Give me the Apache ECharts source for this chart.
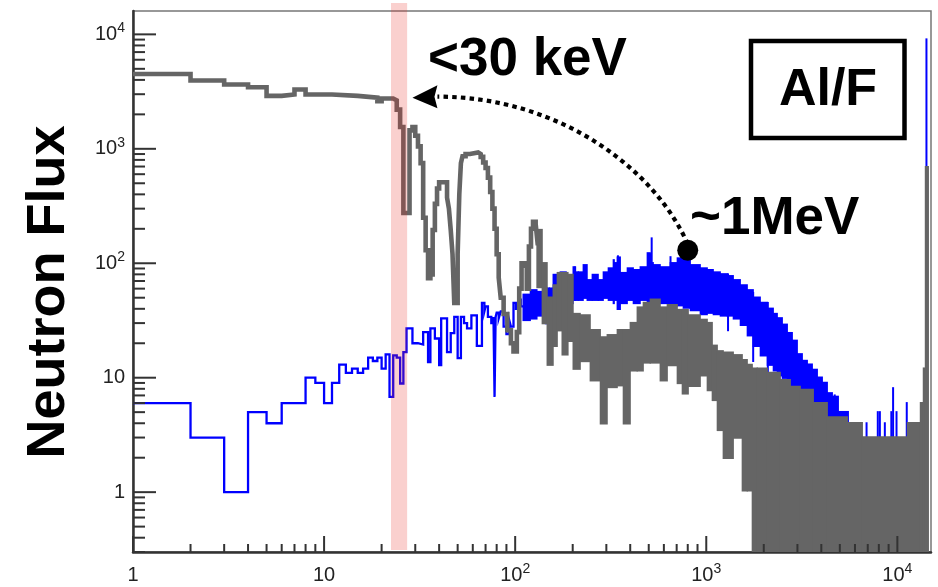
<!DOCTYPE html>
<html>
<head>
<meta charset="utf-8">
<script src="https://cdn.jsdelivr.net/npm/echarts@6/dist/echarts.min.js"></script>
<style>
  html, body { margin: 0; padding: 0; background: #ffffff; }
  #chart { width: 938px; height: 587px; }
</style>
</head>
<body>
<div id="chart"></div>
<script>
// ---- axis ranges (energy in keV, flux per bin) ----
const xRange = [1, 15000];
const yRange = [0.3, 16000];
const decadeLabels = ['1', '10', '10^2', '10^3', '10^4'];

// ---- grey spectrum: resolved low-energy bins (edges in keV, contents) ----
const grayEdges = [1, 2, 3, 4, 5, 6, 7, 8, 11, 15, 19, 20, 23, 24, 25, 26, 28, 29, 30, 31,
  32, 33, 34, 35, 36, 37, 38, 39, 40, 44, 45, 46, 47, 48, 50, 51, 52, 53, 55, 58,
  64, 66, 68, 70, 72, 74, 76, 78, 80, 82, 84, 87, 91, 95, 98, 102, 105, 108, 112, 115,
  118, 121, 124, 128, 131, 134];
const grayValues = [4500, 3950, 3650, 3450, 2900, 2980, 3300, 2980, 2900, 2800,
  2600, 2750, 2650, 2200, 1550, 275, 1450, 1550, 1300, 1050,
  750, 250, 130, 74, 80, 195, 330, 450, 510, 375,
  300, 195, 120, 45, 120, 400, 750, 860, 900, 930,
  900, 850, 760, 680, 560, 420, 300, 200, 120, 75,
  50, 36, 26, 20, 17, 25, 60, 100, 95, 60,
  140, 200, 230, 220, 150];

// ---- grey spectrum: dense high-energy bins as blocks (edges, lowest and highest content) ----
const grayBandEdges = [130, 138.5, 147, 158, 166, 176, 189, 201, 219, 247, 279, 303, 342, 368, 400,
  435, 468, 509, 574, 625, 705, 749, 805, 930, 1012, 1075, 1142, 1227, 1385, 1543,
  1639, 1741, 1849, 2086, 2440, 2754, 3105, 3633, 4300, 5473, 6558, 11280, 13200, 13680, 14020, 14530];
const grayBandLow = [62, 30, 13, 19, 26, 16, 21, 12, 14, 9.5, 4, 8.3, 8.6, 4, 11.6,
  11.6, 13.6, 13.6, 9.5, 12.9, 9, 7.3, 8.5, 10.5, 7.8, 6.4, 3.5, 2, 3, 1.04,
  1.04, 0, 0, 0, 0, 0, 0, 0, 0, 0, 0, 0, 0, 0, 0];
const grayBandHigh = [195, 100, 50, 64, 82, 82, 79, 36, 35, 26, 22.5, 23.5, 26, 26, 30,
  41, 45, 48, 41, 43, 39, 39, 35, 32, 30, 19, 17, 16.5, 15.7, 14.2,
  12.9, 12, 12, 11, 9.5, 8.3, 7.8, 6, 4.5, 4, 3, 4, 6, 12, 690];

// ---- blue spectrum: resolved low-energy bins ----
const blueEdges = [1, 2, 3, 4, 5, 6, 8, 9, 10, 11, 12, 13, 14, 15, 16, 17, 18, 19, 20, 21,
  22, 23, 24, 25, 26, 27, 29, 31, 33, 35, 36, 38, 40, 41, 44, 46, 48, 50, 52, 54,
  56, 59, 63, 67, 69, 70, 72, 75, 77, 78, 79, 80, 82, 84, 87, 90, 93, 95, 98, 101,
  104, 107, 110];
const blueValues = [6, 3, 1, 5, 4, 6, 10, 9, 6, 9, 13, 11, 12, 11, 12, 15, 14, 15, 12, 16,
  6.8, 15.7, 15, 8.9, 16.7, 27, 20, 19.5, 25, 13.7, 27, 22, 12.9, 33, 16.7, 24.5, 34, 14.8, 34, 30,
  27, 35, 19, 45, 38, 42, 34, 30, 34, 6.8, 34, 37, 33, 38, 28, 24, 32, 28, 45, 40,
  48, 42];

// ---- blue spectrum: dense high-energy bins as blocks ----
const blueBandEdges = [110, 120, 130, 144, 147, 151, 158, 172, 185, 201, 206, 214, 227, 238, 253,
  272, 289, 307, 326, 330, 342, 355, 386, 415, 451, 491, 509, 528, 574, 648,
  705, 758, 825, 930, 1012, 1088, 1184, 1288, 1385, 1507, 1639, 1762, 1917, 2086, 2243,
  2353, 2500, 2656, 2820, 2995, 3181, 3380, 3589, 3813, 4049, 4300, 4568, 4911, 5540];
const blueBandLow = [32, 33, 35, 30, 36, 36, 43, 43, 45, 48, 48, 48, 50, 48, 48,
  48, 50, 48, 45, 48, 40, 45, 48, 45, 48, 44, 46, 48, 45, 43,
  43, 41, 39, 36, 37, 36, 35, 35, 33, 29, 23.5, 19, 15.7, 13, 11.6,
  10.5, 10, 8.6, 7.8, 7, 6.4, 5.8, 5.2, 5, 4.6, 4.3, 4.1, 4];
const blueBandHigh = [53, 58, 56, 60, 60, 60, 79, 83, 74, 92, 83, 83, 96, 71, 79,
  71, 83, 90, 106, 100, 112, 82, 90, 87, 92, 122, 100, 96, 92, 100,
  110, 107, 96, 90, 87, 83, 80, 77, 71, 64, 58, 50, 45, 40, 36,
  33, 29, 24.5, 21, 16, 14, 13, 11.7, 10, 9, 7.3, 6.8, 5];

// ---- blue spectrum: isolated single-bin excursions (energy, low, high) ----
const blueSpikeX = [150, 206, 345, 512, 518, 650, 1300, 1760, 2100, 4700, 6900, 7900, 8100, 8600,
  9300, 9500, 9900, 11200, 14200];
const blueSpikeLow = [21, 48, 40, 30, 44, 45, 26, 14, 10, 4.1, 2.0, 2.8, 2.8, 2.8,
  2.8, 2.8, 2.8, 2.8, 700];
const blueSpikeHigh = [58, 92, 115, 120, 165, 113, 80, 55, 45, 7, 4, 5, 5, 4,
  5, 8.1, 5, 6, 9040];

// ---- highlighted energy window and the ~1 MeV marker ----
const windowRange = [22.4, 27.2];
const peakMarker = [800, 130];
const arrowTip = [29, 2800];

// ---- helpers ----
const GREY = '#656565';
const BLUE = '#0000ff';
const INK = '#222222';
const FONT = 'Liberation Sans, Arial, Helvetica, sans-serif';

function stepPoints(edges, values) {
  const pts = [];
  values.forEach((v, i) => { pts.push([edges[i], v], [edges[i + 1], v]); });
  return pts;
}
function blockData(edges, low, high) {
  return low.map((l, i) => [edges[i], edges[i + 1], l, high[i]]);
}
function spikeData(xs, low, high) {
  return xs.map((x, i) => [x, x, low[i], high[i]]);
}
function decadeTicks(firstExp, lastExp, mantissas, upTo, from) {
  const out = [];
  for (let e = firstExp; e <= lastExp; e++) {
    mantissas.forEach(m => {
      const v = +(m * Math.pow(10, e)).toPrecision(6);
      if (v <= upTo && v >= from) out.push(v);
    });
  }
  return out;
}
const minorMantissas = [2, 3, 4, 5, 6, 7, 8, 9];
const xMajor = [1, 10, 100, 1000, 10000];
const yMajor = [1, 10, 100, 1000, 10000];
const xMinor = decadeTicks(0, 4, minorMantissas, xRange[1], xRange[0]);
const yMinor = decadeTicks(-1, 3, minorMantissas, yRange[1], yRange[0]);

function clipToGrid(rect, cs) {
  return echarts.graphic.clipRectByRect(rect, { x: cs.x, y: cs.y, width: cs.width, height: cs.height });
}

function blockRenderer(color) {
  return function (params, api) {
    const cs = params.coordSys;
    const x0 = api.value(0), x1 = api.value(1), lo = api.value(2), hi = api.value(3);
    const a = api.coord([x0, hi]);
    const b = api.coord([x1, hi]);
    const yb = lo > 0 ? api.coord([x0, lo])[1] : cs.y + cs.height + 2;
    const rect = clipToGrid({ x: a[0] - 0.6, y: a[1] - 1.2, width: b[0] - a[0] + 1.2, height: yb - a[1] + 2.4 }, cs);
    if (!rect) return null;
    return { type: 'rect', shape: rect, style: { fill: color } };
  };
}
function spikeRenderer(color, width) {
  return function (params, api) {
    const cs = params.coordSys;
    const x = api.value(0), lo = api.value(2), hi = api.value(3);
    const a = api.coord([x, hi]);
    const yb = lo > 0 ? api.coord([x, lo])[1] : cs.y + cs.height;
    const rect = clipToGrid({ x: a[0] - width / 2, y: a[1] - 1, width: width, height: yb - a[1] + 2 }, cs);
    if (!rect) return null;
    return { type: 'rect', shape: rect, style: { fill: color } };
  };
}

function labelFromDecade(value) {
  const e = Math.round(Math.log10(value));
  const txt = decadeLabels[e];
  if (txt === undefined) return '';
  const parts = txt.split('^');
  return parts.length === 2 ? '{b|' + parts[0] + '}{s|' + parts[1] + '}' : '{b|' + parts[0] + '}';
}
const labelRich = {
  b: { fontFamily: FONT, fontSize: 20, lineHeight: 26, color: INK },
  s: { fontFamily: FONT, fontSize: 14, lineHeight: 14, color: INK, verticalAlign: 'top' }
};

const chart = echarts.init(document.getElementById('chart'));

const option = {
  animation: false,
  backgroundColor: '#ffffff',
  grid: { left: 133, right: 7, top: 11, bottom: 35, show: true, borderColor: '#777777', borderWidth: 1.5, backgroundColor: 'transparent' },
  xAxis: {
    type: 'log', logBase: 10, min: xRange[0], max: xRange[1],
    axisLine: { show: true, onZero: false, lineStyle: { color: '#333333', width: 2.5 } },
    axisTick: { show: false }, splitLine: { show: false }, minorTick: { show: false },
    axisLabel: { margin: 10, showMinLabel: true, showMaxLabel: false, formatter: labelFromDecade, rich: labelRich }
  },
  yAxis: {
    type: 'log', logBase: 10, min: yRange[0], max: yRange[1],
    axisLine: { show: true, onZero: false, lineStyle: { color: '#333333', width: 2.5 } },
    axisTick: { show: false }, splitLine: { show: false }, minorTick: { show: false },
    axisLabel: { margin: 8, showMinLabel: false, showMaxLabel: false, formatter: labelFromDecade, rich: labelRich }
  },
  series: [
    // blue spectrum
    {
      type: 'line', data: stepPoints(blueEdges, blueValues), showSymbol: false, z: 2,
      lineStyle: { color: BLUE, width: 2.3, join: 'miter' }, itemStyle: { color: BLUE }
    },
    {
      type: 'custom', z: 2, data: blockData(blueBandEdges, blueBandLow, blueBandHigh),
      encode: { x: [0, 1], y: [2, 3] }, renderItem: blockRenderer(BLUE)
    },
    {
      type: 'custom', z: 2, data: spikeData(blueSpikeX, blueSpikeLow, blueSpikeHigh),
      encode: { x: [0, 1], y: [2, 3] }, renderItem: spikeRenderer(BLUE, 2)
    },
    // grey spectrum
    {
      type: 'line', data: stepPoints(grayEdges, grayValues), showSymbol: false, z: 3,
      lineStyle: { color: GREY, width: 4.6, join: 'miter' }, itemStyle: { color: GREY }
    },
    {
      type: 'custom', z: 3, data: blockData(grayBandEdges, grayBandLow, grayBandHigh),
      encode: { x: [0, 1], y: [2, 3] }, renderItem: blockRenderer(GREY)
    },
    // highlighted window below 30 keV
    {
      type: 'custom', z: 4, data: [[windowRange[0], windowRange[1]]],
      encode: { x: [0, 1] },
      renderItem: function (params, api) {
        const a = api.coord([api.value(0), yRange[1]]);
        const b = api.coord([api.value(1), yRange[0]]);
        return { type: 'rect', shape: { x: a[0], y: a[1] - 8, width: b[0] - a[0], height: b[1] - a[1] + 6 },
          style: { fill: 'rgba(232, 40, 30, 0.22)' } };
      }
    },
    // dotted arrow from the ~1 MeV peak back to the window
    {
      type: 'custom', z: 5, data: [[peakMarker[0], peakMarker[1], arrowTip[0], arrowTip[1]]],
      encode: { x: [0, 2], y: [1, 3] },
      renderItem: function (params, api) {
        const p0 = api.coord([api.value(0), api.value(1)]);
        const tip = api.coord([api.value(2), api.value(3)]);
        const base = [tip[0] + 25, tip[1] - 1];
        return {
          type: 'group',
          children: [
            { type: 'bezierCurve',
              shape: { x1: p0[0], y1: p0[1] - 6, cpx1: p0[0] - 32, cpy1: p0[1] - 80,
                       cpx2: base[0] + 123, cpy2: base[1], x2: base[0], y2: base[1] },
              style: { stroke: '#000000', lineWidth: 4.2, lineDash: [4.5, 4.2], fill: null } },
            { type: 'polygon',
              shape: { points: [[tip[0], tip[1]], [base[0], base[1] - 11.5], [base[0] - 3, base[1]], [base[0], base[1] + 11.5]] },
              style: { fill: '#000000' } }
          ]
        };
      }
    },
    {
      type: 'scatter', z: 6, data: [peakMarker], symbol: 'circle', symbolSize: 21,
      itemStyle: { color: '#000000', opacity: 1 }
    },
    // axis ticks drawn inside the frame
    {
      type: 'custom', z: 7, silent: true,
      data: xMajor.map(v => [v, yRange[0], 16]).concat(xMinor.map(v => [v, yRange[0], 8])),
      encode: { x: 0, y: 1 },
      renderItem: function (params, api) {
        const p = api.coord([api.value(0), api.value(1)]);
        return { type: 'line', shape: { x1: p[0], y1: p[1], x2: p[0], y2: p[1] - api.value(2) },
          style: { stroke: '#333333', lineWidth: 2 } };
      }
    },
    {
      type: 'custom', z: 7, silent: true,
      data: yMajor.map(v => [xRange[0], v, 23]).concat(yMinor.map(v => [xRange[0], v, 12])),
      encode: { x: 0, y: 1 },
      renderItem: function (params, api) {
        const p = api.coord([api.value(0), api.value(1)]);
        return { type: 'line', shape: { x1: p[0], y1: p[1], x2: p[0] + api.value(2), y2: p[1] },
          style: { stroke: '#333333', lineWidth: 2 } };
      }
    }
  ],
  graphic: [
    { type: 'text', x: 49, y: 292, rotation: Math.PI / 2, z: 10,
      style: { text: 'Neutron Flux', fill: '#000000', font: 'bold 54px ' + FONT, align: 'center', verticalAlign: 'middle' } },
    { type: 'text', x: 428, y: 60, z: 10,
      style: { text: '<30 keV', fill: '#000000', font: 'bold 53px ' + FONT, align: 'left', verticalAlign: 'middle' } },
    { type: 'text', x: 690, y: 219, z: 10,
      style: { text: '~1MeV', fill: '#000000', font: 'bold 53px ' + FONT, align: 'left', verticalAlign: 'middle' } },
    { type: 'rect', z: 10, shape: { x: 751, y: 41, width: 153.5, height: 97 },
      style: { fill: '#ffffff', stroke: '#000000', lineWidth: 4.5 } },
    { type: 'text', x: 828, y: 91, z: 11,
      style: { text: 'Al/F', fill: '#000000', font: 'bold 52px ' + FONT, align: 'center', verticalAlign: 'middle' } }
  ]
};

chart.setOption(option);
</script>
</body>
</html>
